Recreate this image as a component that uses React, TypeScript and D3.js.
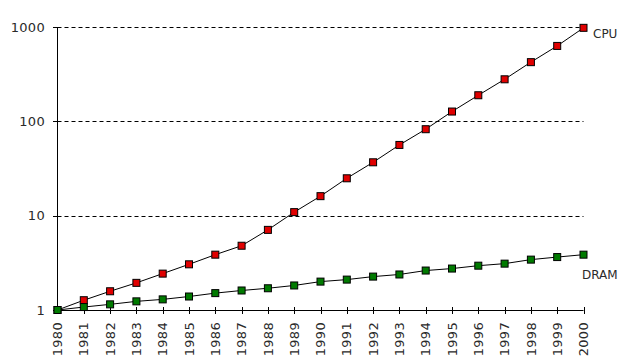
import React from "react";
import * as d3 from "d3";

const years: number[] = d3.range(1980, 2001);
const cpuValues: number[] = [1, 1.27, 1.58, 1.94, 2.43, 3.05, 3.86, 4.8, 7.07, 10.9, 16.1, 24.9, 36.8, 56.2, 82.5, 127, 189, 279, 424, 630, 980];
const dramValues: number[] = [1, 1.075, 1.148, 1.235, 1.296, 1.39, 1.51, 1.61, 1.7, 1.82, 2.0, 2.1, 2.26, 2.38, 2.62, 2.75, 2.95, 3.1, 3.42, 3.64, 3.86];
const yTicks: number[] = [1, 10, 100, 1000];
const seriesNames = { cpu: "CPU", dram: "DRAM" };

const W = 628;
const H = 361;

export default function App() {
  const x = d3.scaleLinear().domain([1980, 2000]).range([57.5, 583.5]);
  const y = d3.scaleLog().domain([1, 1000]).range([310, 27]);
  const line = d3
    .line<number>()
    .x((_, i) => x(years[i]))
    .y((d) => y(d));

  const font = "'DejaVu Sans', Verdana, sans-serif";
  const textColor = "#2a2a2a";
  const ms = 7;

  const series = [
    { values: cpuValues, fill: "#e00000", name: seriesNames.cpu, lx: 593, lyVal: cpuValues[cpuValues.length - 1], dy: 6 },
    { values: dramValues, fill: "#007a00", name: seriesNames.dram, lx: 582, lyVal: dramValues[dramValues.length - 1], dy: 20 },
  ];

  return (
    <svg width={W} height={H} style={{ position: "absolute", left: 0, top: 0, background: "#fff" }}>
      <rect width={W} height={H} fill="#fff" />
      {yTicks.slice(1).map((t) => (
        <line key={"g" + t} x1={x(1980)} x2={x(2000)} y1={Math.round(y(t)) + 0.5} y2={Math.round(y(t)) + 0.5} stroke="#000" strokeWidth={1} strokeDasharray="4,3" />
      ))}
      <line x1={57.5} x2={57.5} y1={y(1000)} y2={y(1)} stroke="#000" strokeWidth={1} />
      {yTicks.map((t) => (
        <g key={"yt" + t}>
          <line x1={53} x2={61} y1={Math.round(y(t)) + 0.5} y2={Math.round(y(t)) + 0.5} stroke="#000" />
          <text x={45} y={y(t)} dy="0.36em" textAnchor="end" fontFamily={font} fontSize={13} letterSpacing={0.3} fill={textColor}>
            {t}
          </text>
        </g>
      ))}
      <line x1={x(1980)} x2={x(2000)} y1={310.5} y2={310.5} stroke="#000" strokeWidth={1} />
      {years.map((yr) => (
        <g key={"xt" + yr}>
          <line x1={Math.round(x(yr)) + 0.5} x2={Math.round(x(yr)) + 0.5} y1={307} y2={314} stroke="#000" />
          <text
            transform={`translate(${x(yr)},322) rotate(-90)`}
            dy="0.36em"
            textAnchor="end"
            fontFamily={font}
            fontSize={13}
            letterSpacing={0.3}
            fill={textColor}
          >
            {yr}
          </text>
        </g>
      ))}
      {series.map((s) => (
        <g key={s.name}>
          <path d={line(s.values) || ""} fill="none" stroke="#000" strokeWidth={1} />
          {s.values.map((v, i) => (
            <rect key={i} x={x(years[i]) - ms / 2} y={y(v) - ms / 2} width={ms} height={ms} fill={s.fill} stroke="#000" strokeWidth={1} />
          ))}
          <text x={s.lx} y={y(s.lyVal) + s.dy} dy="0.36em" fontFamily={font} fontSize={12} fill={textColor}>
            {s.name}
          </text>
        </g>
      ))}
    </svg>
  );
}
